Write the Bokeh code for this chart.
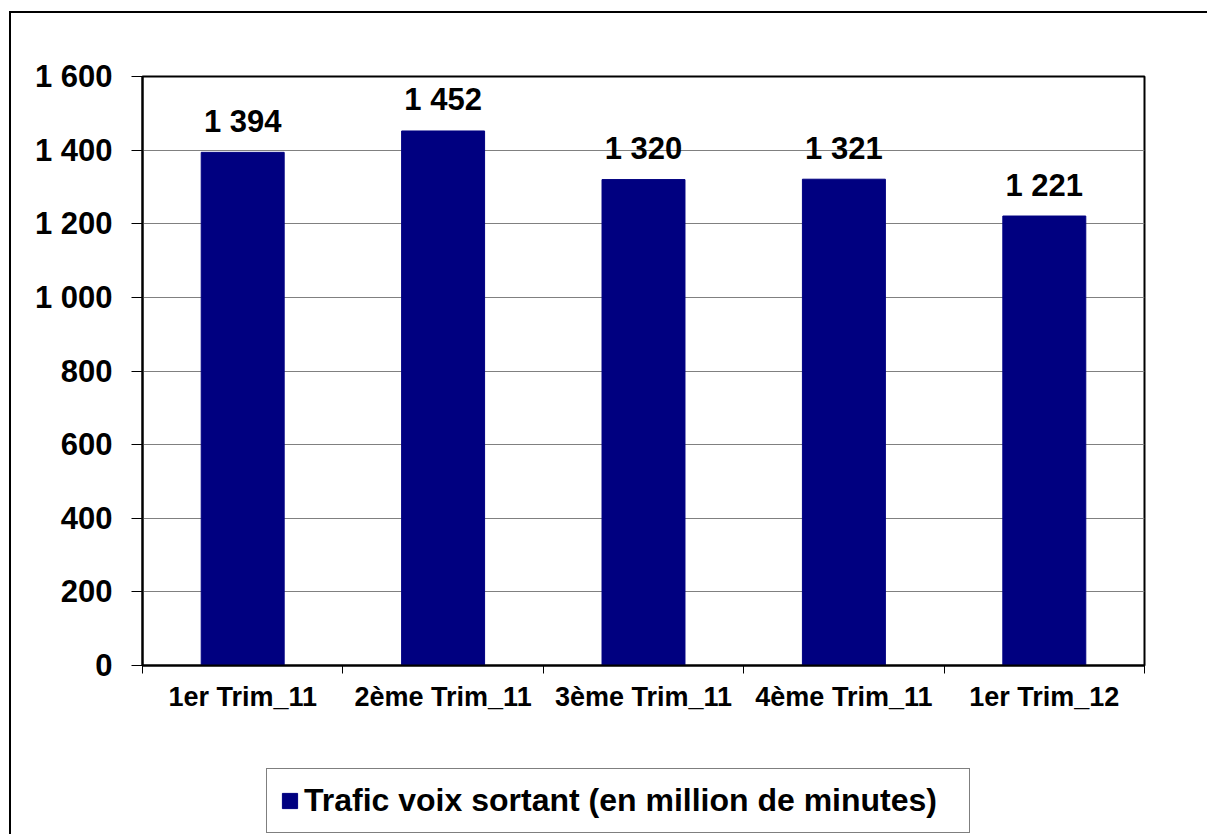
from bokeh.plotting import figure
from bokeh.layouts import column
from bokeh.models import Range1d, FixedTicker, Legend, LegendItem, ColumnDataSource
from bokeh.embed import file_html
from bokeh.resources import INLINE

categories = ["1er Trim_11", "2ème Trim_11", "3ème Trim_11", "4ème Trim_11", "1er Trim_12"]
values = [1394, 1452, 1320, 1321, 1221]
y_ticks = [0, 200, 400, 600, 800, 1000, 1200, 1400, 1600]
y_tick_labels = ["0", "200", "400", "600", "800", "1 000", "1 200", "1 400", "1 600"]
series_name = "Trafic voix sortant (en million de minutes)"

FONT = "Liberation Sans"
NAVY = "#000080"

xs = [i + 0.5 for i in range(len(categories))]
labels = [f"{v:,}".replace(",", " ") for v in values]
src = ColumnDataSource(dict(x=xs, top=values, label=labels))

p = figure(output_backend="svg", toolbar_location=None,
           frame_width=1002, frame_height=589,
           min_border_left=131, min_border_top=63,
           min_border_right=63, min_border_bottom=95,
           x_range=Range1d(0, len(categories)), y_range=Range1d(0, 1600))

p.background_fill_color = "white"
p.border_fill_color = "white"
p.outline_line_color = "black"
p.outline_line_width = 2

bars = p.vbar(x="x", top="top", width=0.414, bottom=0, source=src,
              fill_color=NAVY, line_color=NAVY)

p.text(x="x", y="top", text="label", source=src,
       text_align="center", text_baseline="alphabetic", y_offset=-31,
       text_font={"value": FONT}, text_font_style="bold",
       text_font_size="31px", text_color="black")

yax = p.yaxis[0]
yax.ticker = FixedTicker(ticks=y_ticks)
yax.major_label_overrides = {t: l for t, l in zip(y_ticks, y_tick_labels)}
yax.major_tick_out = 11
yax.major_tick_in = 0
yax.minor_tick_out = 0
yax.minor_tick_in = 0
yax.axis_line_color = "black"
yax.axis_line_width = 2
yax.major_tick_line_color = "black"
yax.major_label_standoff = 19
yax.major_label_text_font = FONT
yax.major_label_text_font_style = "bold"
yax.major_label_text_font_size = "31px"
yax.major_label_text_color = "black"

xax = p.xaxis[0]
xax.ticker = FixedTicker(ticks=xs, minor_ticks=list(range(len(categories) + 1)))
xax.major_label_overrides = {x: c for x, c in zip(xs, categories)}
xax.major_tick_out = 0
xax.major_tick_in = 0
xax.minor_tick_out = 8
xax.minor_tick_in = 0
xax.minor_tick_line_color = "black"
xax.axis_line_color = "black"
xax.axis_line_width = 2
xax.major_label_standoff = 8
xax.major_label_text_font = FONT
xax.major_label_text_font_style = "bold"
xax.major_label_text_font_size = "27px"
xax.major_label_text_color = "black"

p.xgrid.grid_line_color = None
p.ygrid.ticker = FixedTicker(ticks=y_ticks)
p.ygrid.grid_line_color = "#808080"
p.ygrid.grid_line_width = 1

# legend strip below the chart (its frame is aligned with the chart's frame)
lf = figure(output_backend="svg", toolbar_location=None,
            width=1196, height=74, min_border=0,
            x_range=Range1d(0, 1), y_range=Range1d(0, 1),
            x_axis_type=None, y_axis_type=None)
lf.outline_line_color = None
lf.xgrid.grid_line_color = None
lf.ygrid.grid_line_color = None
lf.background_fill_color = "white"
lf.border_fill_color = "white"
# same series, hidden here: only used as the legend swatch
swatch = lf.vbar(x="x", top="top", width=0.414, bottom=0, source=src,
                 fill_color=NAVY, line_color=NAVY, visible=False)

legend = Legend(items=[LegendItem(label=series_name, renderers=[swatch])],
                location=(124, 1), orientation="horizontal",
                border_line_color="black", border_line_width=1,
                glyph_width=19, glyph_height=19, label_standoff=5,
                label_width=652,
                padding=13, margin=0, spacing=0,
                label_text_font=FONT, label_text_font_style="bold",
                label_text_font_size="32px", label_text_color="black",
                background_fill_alpha=1.0)
lf.add_layout(legend, "center")

layout = column(p, lf, spacing=0,
                styles={"margin-left": "9px", "margin-top": "11px",
                        "border-left": "2px solid black",
                        "border-top": "2px solid black"})

open("out.html", "w").write(file_html(layout, INLINE))
